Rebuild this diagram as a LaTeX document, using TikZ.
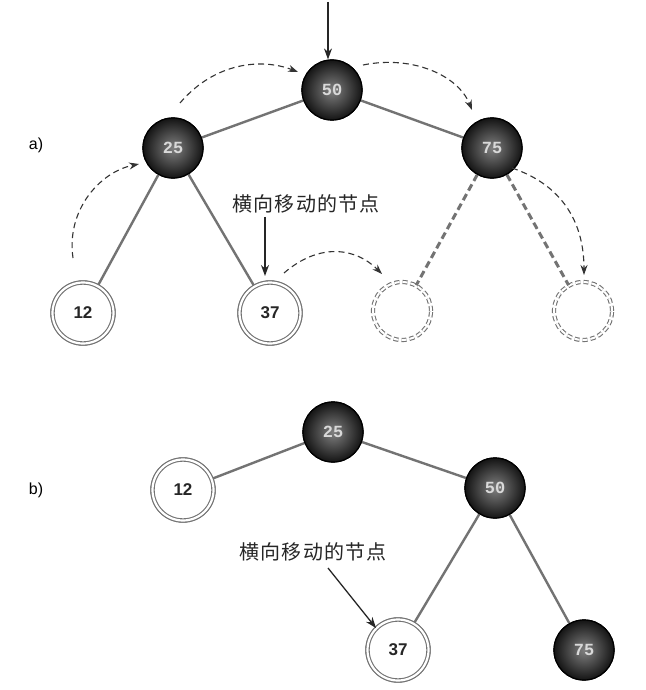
\documentclass[tikz,border=0pt]{standalone}
\usepackage{fontspec}
\setmainfont{Liberation Sans}
\newfontfamily\cjk{Noto Sans CJK SC}
\newfontfamily\monof{Liberation Mono}
\usetikzlibrary{arrows.meta,shadings}
\begin{document}
\begin{tikzpicture}[x=1pt,y=-1pt,
  dark/.style={circle,minimum size=60pt,inner sep=0pt,draw=black,line width=1.2pt,
    inner color=black!50,outer color=black!92,text=black!15,font=\monof\bfseries\fontsize{17}{17}\selectfont},
  light/.style={circle,minimum size=61pt,inner sep=0pt,draw=black!55,line width=1.1pt,
    double=white,double distance=2.2pt,fill=white,text=black!85,font=\bfseries\fontsize{17}{17}\selectfont},
  ghost/.style={circle,minimum size=58pt,inner sep=0pt,draw=black!55,line width=1.1pt,
    double=white,double distance=2pt,dash pattern=on 5pt off 3pt},
  edge/.style={draw=black!55,line width=2.4pt},
  dedge/.style={draw=black!55,line width=3pt,dash pattern=on 7pt off 4pt},
  move/.style={draw=black!80,line width=1.1pt,dash pattern=on 6pt off 4pt,
    -{Stealth[length=10pt,width=7pt]}},
  pointer/.style={draw=black!85,line width=1.3pt,-{Stealth[length=11pt,width=8pt]}},
  lab/.style={font=\cjk\fontsize{20}{20}\selectfont\addfontfeature{LetterSpace=6},text=black!85},
  part/.style={font=\fontsize{16}{16}\selectfont}]
\useasboundingbox (0,0) rectangle (645,690);
\fill[white] (0,0) rectangle (645,690);
% ---------- part a ----------
\node[part] (pa) at (36,145) {a)};
\node[dark] (a50) at (332,90) {};
\node[dark] (a25) at (173,148) {};
\node[dark] (a75) at (492,148) {};
\node[light] (a12) at (83,313) {};
\node[light] (a37) at (270,313) {};
\node[ghost] (g1) at (402,311) {};
\node[ghost] (g2) at (583,311) {};
\path[edge] (a50) -- (a25);
\path[edge] (a50) -- (a75);
\path[edge] (a25) -- (a12);
\path[edge] (a25) -- (a37);
\path[dedge] (a75) -- (g1);
\path[dedge] (a75) -- (g2);
\node[dark] at (a50) {50};
\node[dark] at (a25) {25};
\node[dark] at (a75) {75};
\node[light] at (a12) {12};
\node[light] at (a37) {37};
\coordinate (top) at (328,2);
\draw[pointer] (top) -- (a50.north -| top);
\node[lab] (la) at (306,204) {横向移动的节点};
\draw[pointer] (la.south -| 265,0) -- (265,276);
\coordinate (m1s) at (73,258); \coordinate (m1e) at (139,164);
\draw[move] (m1s) .. controls (66,210) and (100,172) .. (m1e);
\coordinate (m2s) at (180,103); \coordinate (m2e) at (298,72);
\draw[move] (m2s) .. controls (215,62) and (262,58) .. (m2e);
\coordinate (m3s) at (363,65); \coordinate (m3e) at (472,110);
\draw[move] (m3s) .. controls (412,55) and (458,75) .. (m3e);
\coordinate (m4s) at (284,273); \coordinate (m4e) at (382,274);
\draw[move] (m4s) .. controls (320,242) and (356,248) .. (m4e);
\coordinate (m5s) at (512,168); \coordinate (m5e) at (584,275);
\draw[move] (m5s) .. controls (562,185) and (584,222) .. (m5e);
% ---------- part b ----------
\node[part] (pb) at (36,490) {b)};
\node[dark] (b25) at (333,432) {};
\node[light] (b12) at (183,490) {};
\node[dark] (b50) at (495,488) {};
\node[light] (b37) at (398,650) {};
\node[dark] (b75) at (584,650) {};
\path[edge] (b25) -- (b12);
\path[edge] (b25) -- (b50);
\path[edge] (b50) -- (b37);
\path[edge] (b50) -- (b75);
\node[dark] at (b25) {25};
\node[light] at (b12) {12};
\node[dark] at (b50) {50};
\node[light] at (b37) {37};
\node[dark] at (b75) {75};
\node[lab] (lb) at (313,552) {横向移动的节点};
\coordinate (lbs) at (328,568);
\draw[pointer] (lbs) -- (b37.north west);
\end{tikzpicture}
\end{document}
